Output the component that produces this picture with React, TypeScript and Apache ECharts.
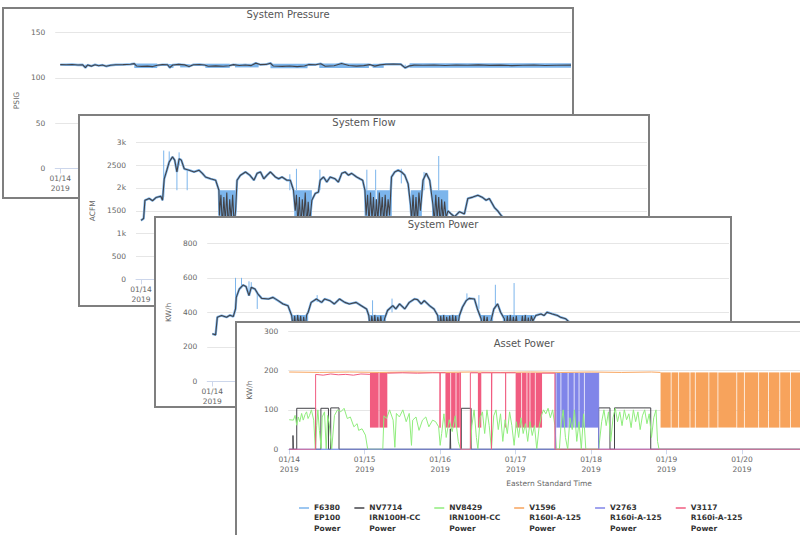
import React, { useEffect, useRef } from "react";
import * as echarts from "echarts";

// ---------- time helpers (x values are days after 01/14/2019 00:00) ----------
const BASE = new Date(2019, 0, 14).getTime();
const DAY = 86400000;
const t = (d: number) => BASE + d * DAY;

// ---------- System Pressure (PSIG) ----------
const pressureAvg: [number, number][] = [
  [0, 114.6], [0.08, 114.4], [0.16, 114.7], [0.24, 114.2], [0.3, 114.5], [0.34, 111.2], [0.37, 114.2], [0.42, 112.9],
  [0.47, 114.5], [0.52, 113.4], [0.57, 114.1], [0.62, 112.8], [0.68, 113.9], [0.75, 114.5], [0.85, 114.6], [0.95, 115.0],
  [1.0, 115.7], [1.03, 113.1], [1.1, 112.6], [1.18, 112.9], [1.25, 112.4], [1.31, 113.8], [1.38, 114.6], [1.45, 114.4],
  [1.48, 111.4], [1.52, 114.2], [1.6, 114.8], [1.68, 114.3], [1.74, 112.6], [1.8, 114.5], [1.88, 114.7], [1.95, 114.2],
  [2.0, 112.8], [2.1, 113.2], [2.2, 112.7], [2.28, 113.4], [2.34, 114.6], [2.42, 113.6], [2.5, 114.2], [2.58, 113.5],
  [2.64, 116.2], [2.7, 114.6], [2.78, 114.8], [2.84, 116.1], [2.88, 113.0], [3.0, 112.6], [3.1, 113.0], [3.2, 112.4],
  [3.3, 113.1], [3.36, 114.7], [3.45, 114.5], [3.52, 115.6], [3.58, 112.8], [3.7, 113.4], [3.8, 115.8], [3.9, 113.6],
  [4.0, 112.9], [4.1, 113.5], [4.18, 114.6], [4.25, 112.9], [4.32, 114.3], [4.4, 115.0], [4.5, 115.1], [4.6, 115.0],
  [4.66, 111.0], [4.72, 113.2], [4.78, 114.0], [4.9, 113.9], [5.05, 114.2], [5.2, 113.6], [5.35, 114.1], [5.5, 113.8],
  [5.65, 114.3], [5.8, 113.7], [5.95, 114.0], [6.1, 113.5], [6.25, 113.9], [6.4, 114.1], [6.55, 113.6], [6.7, 113.9], [6.9, 114.0],
];
// dense raw-reading bands: [startDay, endDay, low, high]
const pressureBands: [number, number, number, number][] = [
  [1.0, 1.31, 110.8, 115.8], [1.46, 1.53, 111.0, 115.2], [1.62, 1.75, 111.5, 115.0], [1.96, 2.29, 111.0, 115.6],
  [2.36, 2.68, 111.5, 115.5], [2.84, 3.34, 110.5, 115.6], [3.5, 4.17, 110.8, 115.8], [4.22, 4.37, 111.0, 115.5],
  [4.72, 6.9, 111.2, 116.0],
];
// single raw spikes: [day, low, high]
const pressureSpikes: [number, number, number][] = [
  [0.34, 110.5, 114.5], [1.48, 110.2, 114.6], [2.64, 114.0, 116.8], [4.66, 110.2, 114.5],
];

// ---------- System Flow (ACFM) ----------
const flowAvg: [number, number][] = [
  [0, 1290], [0.036, 1330], [0.054, 1730], [0.113, 1770], [0.158, 1720], [0.204, 1790], [0.27, 1820], [0.294, 1730],
  [0.317, 2200], [0.353, 2390], [0.385, 2570], [0.43, 2680], [0.46, 2610], [0.49, 2350], [0.52, 2640], [0.55, 2610],
  [0.59, 2420], [0.656, 2390], [0.724, 2350], [0.79, 2390], [0.837, 2320], [0.88, 2240], [0.95, 2200], [1.018, 2170],
  [1.063, 1950], [1.07, 1400], [1.09, 1850], [1.11, 1150], [1.13, 1800], [1.15, 1250], [1.17, 1900], [1.19, 1100],
  [1.21, 1750], [1.23, 1300], [1.25, 1850], [1.27, 1200], [1.29, 1500],
  [1.31, 2170], [1.357, 2280], [1.425, 2350], [1.484, 2280], [1.54, 2170], [1.584, 2320], [1.63, 2350],
  [1.674, 2200], [1.72, 2280], [1.765, 2350], [1.833, 2240], [1.878, 2200], [1.923, 2240], [1.99, 2170], [2.036, 2170],
  [2.08, 1950], [2.104, 1500], [2.12, 1850], [2.14, 1200], [2.16, 1800], [2.18, 1100], [2.2, 1750], [2.22, 1300],
  [2.24, 1900], [2.26, 1150], [2.28, 1700], [2.3, 1250],
  [2.33, 1730], [2.376, 1880], [2.42, 1910], [2.443, 2170], [2.489, 2240], [2.534, 2130], [2.58, 2240], [2.647, 2200],
  [2.692, 2130], [2.738, 2320], [2.783, 2350], [2.828, 2280], [2.873, 2320], [2.941, 2240], [2.986, 2200], [3.023, 2170],
  [3.054, 1950], [3.07, 1400], [3.09, 1850], [3.11, 1200], [3.13, 1900], [3.15, 1300], [3.17, 1800], [3.19, 1150],
  [3.21, 1750], [3.23, 1250], [3.25, 1900], [3.27, 1350], [3.29, 1800], [3.31, 1200], [3.33, 1850], [3.35, 1300],
  [3.37, 1750], [3.39, 1400],
  [3.416, 2240], [3.46, 2350], [3.507, 2390], [3.552, 2350], [3.597, 2280], [3.643, 2090],
  [3.674, 1650], [3.69, 1300], [3.71, 1850], [3.73, 1200], [3.75, 1800], [3.77, 1250], [3.79, 1900], [3.81, 1500],
  [3.846, 2170], [3.89, 2320], [3.937, 2170],
  [3.98, 1650], [4.0, 1250], [4.02, 1850], [4.04, 1300], [4.06, 1800], [4.08, 1150], [4.1, 1750], [4.12, 1300],
  [4.14, 1700], [4.16, 1350],
  [4.186, 1500], [4.23, 1430], [4.276, 1370], [4.344, 1480], [4.41, 1430], [4.457, 1770], [4.525, 1800],
  [4.593, 1840], [4.66, 1790], [4.706, 1730], [4.75, 1770], [4.82, 1570], [4.864, 1500], [4.91, 1400], [4.955, 1330],
  [5.05, 1180], [5.3, 1120], [5.6, 1150], [5.9, 1100], [6.2, 1140], [6.5, 1110], [6.9, 1130],
];
const flowBands: [number, number, number, number][] = [
  [1.06, 1.29, 900, 1950], [2.09, 2.33, 900, 1950], [3.05, 3.2, 900, 1950], [3.215, 3.42, 900, 1950],
  [3.68, 3.83, 900, 1950], [3.97, 4.19, 900, 1950],
];
const flowSpikes: [number, number, number][] = [
  [0.31, 1800, 2820], [0.385, 2500, 2800], [0.49, 1950, 2400], [0.52, 2500, 2780], [0.63, 1950, 2400],
  [2.03, 1950, 2300], [2.12, 1950, 2420], [2.44, 1950, 2400], [3.08, 1950, 2400], [3.2, 1950, 2400],
  [3.55, 2100, 2420], [3.86, 1950, 2350], [4.06, 1950, 2700],
];

// ---------- System Power (KW/h) ----------
const powerAvg: [number, number][] = [
  [0, 276], [0.044, 270], [0.067, 372], [0.124, 382], [0.19, 372], [0.235, 384], [0.28, 376], [0.31, 420], [0.32, 487],
  [0.36, 535], [0.41, 558], [0.45, 550], [0.49, 497], [0.52, 545], [0.57, 535], [0.61, 506], [0.66, 481], [0.75, 478],
  [0.81, 487], [0.88, 468], [0.945, 449], [1.01, 439],
  [1.06, 382], [1.08, 310], [1.1, 380], [1.12, 300], [1.14, 385], [1.16, 320], [1.18, 380], [1.2, 300], [1.22, 375],
  [1.24, 310], [1.26, 385],
  [1.28, 401], [1.32, 458], [1.39, 478], [1.46, 458], [1.5, 478], [1.57, 468], [1.63, 449], [1.7, 478], [1.77, 458],
  [1.83, 449], [1.92, 458], [1.99, 439], [2.06, 420],
  [2.09, 382], [2.11, 300], [2.13, 380], [2.15, 310], [2.17, 385], [2.19, 300], [2.21, 375], [2.23, 320], [2.25, 380],
  [2.27, 300], [2.3, 363],
  [2.34, 411], [2.41, 439], [2.45, 420], [2.5, 449], [2.57, 420], [2.63, 458], [2.7, 478], [2.74, 474], [2.79, 449],
  [2.83, 468], [2.9, 439], [2.96, 420],
  [3.01, 382], [3.03, 300], [3.05, 380], [3.07, 310], [3.09, 385], [3.11, 300], [3.13, 375], [3.15, 320], [3.17, 380],
  [3.19, 300], [3.21, 385], [3.23, 310], [3.25, 380], [3.27, 300], [3.3, 382],
  [3.34, 430], [3.39, 468], [3.43, 481], [3.5, 478], [3.54, 420],
  [3.59, 363], [3.61, 300], [3.63, 380], [3.65, 310], [3.67, 375], [3.69, 300], [3.72, 350],
  [3.76, 420], [3.81, 449], [3.85, 401],
  [3.9, 363], [3.92, 300], [3.94, 380], [3.96, 310], [3.98, 385], [4.0, 300], [4.02, 375], [4.04, 320], [4.06, 380],
  [4.08, 300], [4.1, 345], [4.12, 300], [4.14, 380], [4.16, 310], [4.18, 385], [4.2, 300], [4.22, 370], [4.24, 310],
  [4.26, 380], [4.28, 350],
  [4.32, 382], [4.39, 391], [4.43, 382], [4.47, 401], [4.54, 391], [4.61, 382], [4.65, 372], [4.72, 363], [4.8, 330],
  [4.9, 290], [5.0, 240], [5.3, 230], [5.6, 235], [5.9, 228], [6.2, 232], [6.5, 226], [6.9, 230],
];
const powerBands: [number, number, number, number][] = [
  [1.06, 1.28, 150, 385], [2.08, 2.32, 150, 385], [3.01, 3.3, 150, 385], [3.58, 3.75, 150, 385], [3.88, 4.3, 150, 385],
];
const powerSpikes: [number, number, number][] = [
  [0.31, 420, 600], [0.39, 540, 600], [0.49, 497, 580], [0.52, 540, 575], [0.6, 420, 520], [1.4, 460, 500],
  [2.14, 382, 470], [2.4, 400, 480], [3.4, 470, 510], [3.56, 420, 500], [3.78, 420, 560], [4.03, 382, 570],
];

// ---------- Asset Power (KW/h) ----------
const assetNames = [
  "F6380 EP100 Power",
  "NV7714 IRN100H-CC Power",
  "NV8429 IRN100H-CC Power",
  "V1596 R160I-A-125 Power",
  "V2763 R160i-A-125 Power",
  "V3117 R160i-A-125 Power",
];
const assetColors = ["#7cb5ec", "#434348", "#90ed7d", "#f7a35c", "#8085e9", "#f15c80"];

const f6380: [number, number | string][] = [[0, 0], [6.9, 0]];
const nv7714: [number, number | string][] = [
  [0, 0], [0.05, 0], [0.05, 35], [0.055, 0], [0.1, 0], [0.1, 104], [0.35, 104], [0.35, 0], [0.42, 0], [0.42, 104],
  [0.52, 104], [0.52, 0], [0.55, 0], [0.55, 105], [0.66, 105], [0.66, 0], [2.13, 0], [2.135, 52], [2.14, 0], [2.28, 0],
  [2.28, 104], [2.41, 104], [2.41, 0], [4.1, 0], [4.1, 105], [4.25, 105], [4.25, 0], [4.31, 0], [4.31, 105], [4.79, 105],
  [4.79, 0], [6.9, 0],
];
const nv8429: [number, number | string][] = [
  [0.0, 75], [0.056, 74], [0.078, 86], [0.1, 61], [0.12, 82], [0.14, 70], [0.165, 91], [0.186, 74], [0.21, 88],
  [0.23, 95], [0.25, 78], [0.27, 86], [0.294, 100], [0.325, 74], [0.346, 0], [0.364, 60], [0.38, 100], [0.4, 48],
  [0.424, 2], [0.437, 82], [0.468, 95], [0.49, 0], [0.51, 86], [0.53, 65], [0.563, 0], [0.6, 86], [0.64, 100],
  [0.684, 95], [0.727, 104], [0.77, 78], [0.81, 82], [0.857, 57], [0.9, 65], [0.92, 48], [0.965, 52], [1.01, 36],
  [1.04, 0], [1.24, 0], [1.255, 85], [1.29, 78], [1.33, 100], [1.377, 74], [1.4, 5], [1.42, 91], [1.46, 82],
  [1.506, 100], [1.55, 70], [1.59, 91], [1.62, 10], [1.636, 74], [1.68, 82], [1.72, 48], [1.766, 74], [1.81, 82],
  [1.85, 57], [1.9, 74], [1.94, 70], [1.98, 57], [2.0, 10], [2.02, 40], [2.05, 90], [2.08, 30], [2.12, 75],
  [2.16, 45], [2.2, 85], [2.24, 20], [2.27, 0], [2.4, 0], [2.42, 60], [2.45, 100], [2.48, 30], [2.5, 0], [2.53, 80],
  [2.56, 95], [2.59, 40], [2.62, 100], [2.65, 60], [2.68, 0], [2.71, 85], [2.74, 100], [2.77, 50], [2.8, 90],
  [2.83, 20], [2.86, 75], [2.89, 40], [2.92, 95], [2.95, 60], [2.98, 10], [3.01, 70], [3.04, 30], [3.07, 80],
  [3.1, 40], [3.13, 65], [3.16, 20], [3.19, 70], [3.22, 35], [3.25, 60], [3.28, 0], [3.31, 55], [3.34, 85],
  [3.37, 100], [3.4, 90], [3.43, 104], [3.46, 80], [3.49, 100], [3.52, 60], [3.54, 0], [3.58, 0], [3.6, 60],
  [3.63, 100], [3.66, 30], [3.69, 0], [3.72, 80], [3.75, 50], [3.78, 100], [3.81, 20], [3.84, 70], [3.87, 0],
  [3.9, 90], [3.93, 0], [4.1, 0], [4.14, 70], [4.17, 100], [4.2, 60], [4.23, 95], [4.26, 20], [4.29, 80],
  [4.32, 104], [4.35, 70], [4.38, 95], [4.41, 60], [4.44, 100], [4.47, 75], [4.5, 90], [4.53, 55], [4.56, 100],
  [4.59, 70], [4.62, 95], [4.65, 50], [4.68, 85], [4.71, 100], [4.74, 65], [4.77, 90], [4.8, 30], [4.83, 80],
  [4.86, 100], [4.88, 20], [4.9, 0], [6.9, 0],
];
const v1596: [number, number | string][] = [
  [0, 196], [0.4, 195], [0.8, 196], [1.2, 195], [1.6, 196], [2.0, 195], [2.4, 196], [2.8, 195], [3.2, 196],
  [3.6, 195], [4.0, 196], [4.4, 195], [4.8, 196], [4.92, 195],
];
const v1596Bands: [number, number, number, number][] = [
  [4.92, 5.055, 55, 195], [5.065, 5.155, 55, 195], [5.165, 5.305, 55, 195], [5.315, 5.375, 55, 195],
  [5.385, 5.555, 55, 195], [5.565, 5.675, 55, 195], [5.685, 5.925, 55, 195], [5.935, 6.025, 55, 195],
  [6.035, 6.215, 55, 195], [6.225, 6.345, 55, 195], [6.355, 6.495, 55, 195], [6.505, 6.635, 55, 195],
  [6.645, 6.9, 55, 195],
];
const v2763: [number, number | string][] = [
  [0, 0], [3.53, 0], [3.53, 194], [3.54, "-"], [4.1, 194], [4.1, 0], [6.9, 0],
];
const v2763Bands: [number, number, number, number][] = [
  [3.54, 3.595, 55, 194], [3.605, 3.69, 55, 194], [3.7, 3.77, 55, 194], [3.78, 3.835, 55, 194],
  [3.845, 3.905, 55, 194], [3.915, 4.1, 55, 194],
];
const v3117: [number, number | string][] = [
  [0, 0], [0.35, 0], [0.35, 190], [0.45, 188], [0.55, 191], [0.65, 189], [0.75, 190], [0.85, 188], [0.95, 191],
  [1.07, 190], [1.08, "-"], [1.3, 193], [1.5, 194], [1.7, 193], [1.9, 194], [1.998, 194], [1.998, 55], [2.0, 194],
  [2.07, 194], [2.08, "-"], [2.26, 194], [2.27, 194], [2.27, 0], [2.4, 0], [2.4, 194], [2.5, 194], [2.51, "-"],
  [2.545, 194], [2.68, 194], [2.68, 0], [2.685, 0], [2.685, 194], [2.86, 194], [2.875, 194], [3.0, 194], [3.01, "-"],
  [3.35, 193], [3.52, 193], [3.52, 0], [6.9, 0],
];
const v3117Bands: [number, number, number, number][] = [
  [1.07, 1.185, 55, 194], [1.195, 1.3, 55, 194], [1.998, 2.0, 55, 194], [2.07, 2.135, 55, 194],
  [2.145, 2.205, 55, 194], [2.215, 2.26, 55, 194], [2.5, 2.545, 55, 194], [2.86, 2.875, 55, 194],
  [3.0, 3.075, 55, 194], [3.085, 3.145, 55, 194], [3.155, 3.185, 55, 194], [3.195, 3.255, 55, 194],
  [3.265, 3.35, 55, 194],
];

// ---------- styling ----------
const FONT = "DejaVu Sans";
const AXIS_LINE = "#ccd6eb";
const GRID_LINE = "#e6e6e6";
const LABEL = "#666666";
const BLUE = "#7cb5ec";
const DARK = "#434348";
// legend marker: a short line at the top of a 10x21 box, so it sits beside the first text line
const LEGEND_ICON = "path://M0 0H10V1.5H0ZM0 21L0 21";

const toSeries = (arr: [number, number | string][]) => arr.map(([d, v]) => [t(d), v]);
const spikeData = (arr: [number, number, number][]) =>
  arr.flatMap(([d, lo, hi]) => [[t(d), lo], [t(d), hi], [t(d), "-"]]);
const bandArea = (bands: [number, number, number, number][], color: string, z = 1) => ({
  silent: true,
  z,
  label: { show: false },
  itemStyle: { color, opacity: 1, borderWidth: 0 },
  emphasis: { disabled: true },
  data: bands.map(([a, b, lo, hi]) => [
    { xAxis: t(a), yAxis: lo },
    { xAxis: t(b), yAxis: hi },
  ]),
});

const xAxisOpt = (minD: number, maxD: number, extra: any = {}) => ({
  type: "time",
  min: t(minD),
  max: t(maxD),
  minInterval: DAY,
  maxInterval: DAY,
  splitNumber: 7,
  axisLine: { lineStyle: { color: AXIS_LINE, width: 1 } },
  axisTick: { show: true, length: 5, lineStyle: { color: AXIS_LINE } },
  splitLine: { show: false },
  axisLabel: {
    fontFamily: FONT,
    fontSize: 7.5,
    color: LABEL,
    lineHeight: 9.5,
    margin: 5.5,
    formatter: (v: number) => {
      const dt = new Date(v);
      if (dt.getHours() !== 0 || dt.getMinutes() !== 0) return "";
      const mm = String(dt.getMonth() + 1).padStart(2, "0");
      const dd = String(dt.getDate()).padStart(2, "0");
      return `${mm}/${dd}\n${dt.getFullYear()}`;
    },
  },
  ...extra,
});

const yAxisOpt = (name: string, max: number, interval: number, nameGap: number, fmt?: (v: number) => string) => ({
  type: "value",
  min: 0,
  max,
  interval,
  name,
  nameLocation: "middle",
  nameGap,
  nameRotate: 90,
  nameTextStyle: { fontFamily: FONT, fontSize: 7.5, color: LABEL },
  axisLine: { show: false },
  axisTick: { show: false },
  splitLine: { lineStyle: { color: GRID_LINE, width: 1 } },
  axisLabel: { fontFamily: FONT, fontSize: 7.5, color: LABEL, margin: 10, formatter: fmt },
});

const titleOpt = (text: string, top: number) => ({
  text,
  left: "center",
  top,
  padding: 0,
  textStyle: { fontFamily: FONT, fontSize: 10, fontWeight: "normal", color: "#555555" },
});

const systemOption = (
  title: string,
  titleTop: number,
  grid: any,
  yName: string,
  yMax: number,
  yInt: number,
  nameGap: number,
  avg: [number, number][],
  bands: [number, number, number, number][],
  spikes: [number, number, number][],
  fmt?: (v: number) => string
) => ({
  animation: false,
  title: titleOpt(title, titleTop),
  grid,
  xAxis: xAxisOpt(-0.068, 6.9),
  yAxis: yAxisOpt(yName, yMax, yInt, nameGap, fmt),
  series: [
    {
      name: "Raw",
      type: "line",
      showSymbol: false,
      silent: true,
      data: toSeries(avg),
      lineStyle: { color: BLUE, width: 2.4 },
      itemStyle: { color: BLUE },
      markArea: bandArea(bands, BLUE, 1),
    },
    {
      name: "Raw spikes",
      type: "line",
      showSymbol: false,
      silent: true,
      data: spikeData(spikes),
      lineStyle: { color: BLUE, width: 1 },
      itemStyle: { color: BLUE },
    },
    {
      name: "Average",
      type: "line",
      showSymbol: false,
      silent: true,
      data: toSeries(avg),
      lineStyle: { color: DARK, width: 1.1 },
      itemStyle: { color: DARK },
    },
  ],
});

const pressureOption = systemOption(
  "System Pressure", 0, { left: 45, right: 1, top: 23.5, bottom: 28.5 },
  "PSIG", 150, 50, 30.5, pressureAvg, pressureBands, pressureSpikes
);
const flowOption = systemOption(
  "System Flow", 1.3, { left: 48, right: 1, top: 26.3, bottom: 25.7 },
  "ACFM", 3000, 500, 34.5, flowAvg, flowBands, flowSpikes,
  (v: number) => (v > 0 && v % 1000 === 0 ? `${v / 1000}k` : String(v))
);
const powerOption = systemOption(
  "System Power", 1.7, { left: 43, right: 1, top: 25.3, bottom: 23.7 },
  "KW/h", 800, 200, 30.5, powerAvg, powerBands, powerSpikes
);

const assetData = [f6380, nv7714, nv8429, v1596, v2763, v3117];
const assetBands: ([number, number, number, number][] | null)[] = [null, null, null, v1596Bands, v2763Bands, v3117Bands];

const assetOption = {
  animation: false,
  title: titleOpt("Asset Power", 15.2),
  grid: { left: 41, right: 1, top: 8, bottom: 99.7 },
  legend: {
    left: 62,
    top: 179,
    padding: 0,
    itemGap: 14,
    itemWidth: 10,
    itemHeight: 21,
    icon: LEGEND_ICON,
    selectedMode: false,
    data: assetNames,
    formatter: (n: string) => n.split(" ").join("\n"),
    textStyle: {
      fontFamily: FONT,
      fontSize: 7.5,
      fontWeight: "bold",
      color: "#333333",
      lineHeight: 10.5,
    },
  },
  xAxis: xAxisOpt(-0.013, 6.9, {
    name: "Eastern Standard Time",
    nameLocation: "middle",
    nameGap: 30.5,
    nameTextStyle: { fontFamily: FONT, fontSize: 7.5, color: LABEL },
  }),
  yAxis: yAxisOpt("KW/h", 300, 100, 31),
  series: assetNames.map((name, i) => {
    const s: any = {
      name,
      type: "line",
      showSymbol: false,
      silent: true,
      data: toSeries(assetData[i]),
      lineStyle: { color: assetColors[i], width: 1 },
      itemStyle: { color: assetColors[i] },
    };
    const b = assetBands[i];
    if (b) s.markArea = bandArea(b, assetColors[i], 3);
    return s;
  }),
};

// ---------- components ----------
type Box = { left: number; top: number; w: number; h: number };

function Panel({ box, option }: { box: Box; option: any }) {
  const ref = useRef<HTMLDivElement>(null);
  useEffect(() => {
    if (!ref.current) return;
    const chart = echarts.init(ref.current, undefined, { renderer: "svg" });
    chart.setOption(option);
    return () => chart.dispose();
  }, [option]);
  return (
    <div
      style={{
        position: "absolute",
        left: box.left,
        top: box.top,
        width: box.w,
        height: box.h,
        border: "2px solid #7f7f7f",
        boxSizing: "border-box",
        background: "#ffffff",
      }}
    >
      <div ref={ref} style={{ width: "100%", height: "100%" }} />
    </div>
  );
}

export default function App() {
  return (
    <div
      style={{
        position: "fixed",
        left: 0,
        top: 0,
        width: 800,
        height: 535,
        overflow: "hidden",
        background: "#ffffff",
      }}
    >
      <Panel box={{ left: 2, top: 7, w: 572, h: 192 }} option={pressureOption} />
      <Panel box={{ left: 78, top: 114, w: 572, h: 193 }} option={flowOption} />
      <Panel box={{ left: 154, top: 216, w: 578, h: 192 }} option={powerOption} />
      <Panel box={{ left: 235, top: 321, w: 578, h: 230 }} option={assetOption} />
    </div>
  );
}
